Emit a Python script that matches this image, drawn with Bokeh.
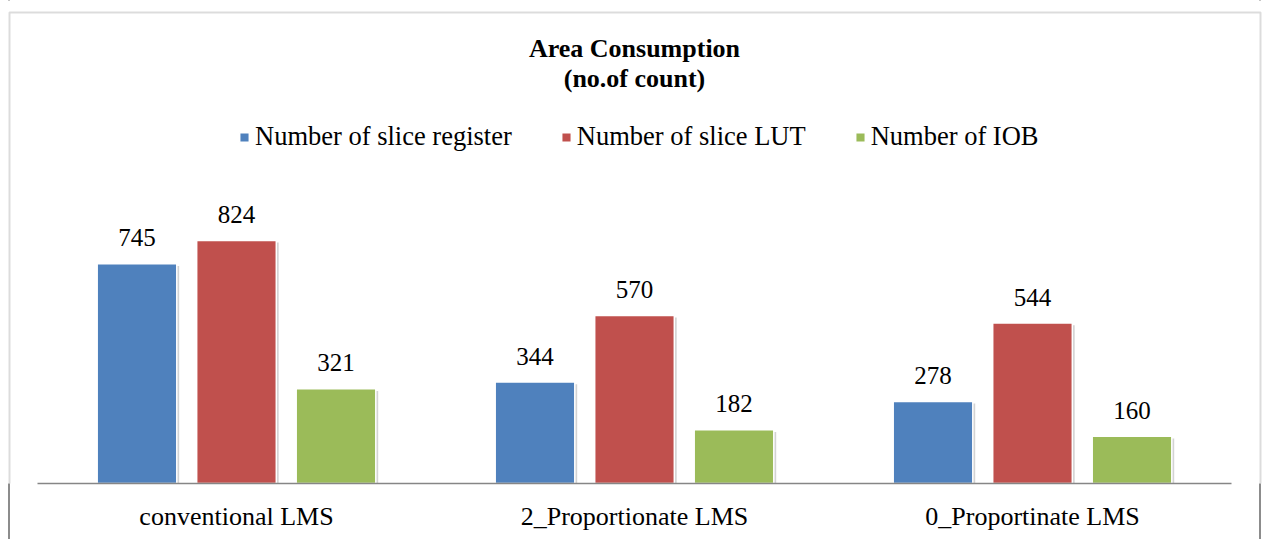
from bokeh.plotting import figure
from bokeh.models import (ColumnDataSource, FactorRange, Range1d, LabelSet, Label,
                          Legend, LegendItem, BoxAnnotation)
from bokeh.transform import dodge
from bokeh.embed import file_html
from bokeh.resources import INLINE

categories = ["conventional LMS", "2_Proportionate LMS", "0_Proportinate LMS"]
series_names = ["Number of slice register", "Number of slice LUT", "Number of IOB"]
slice_register = [745, 344, 278]
slice_lut = [824, 570, 544]
iob = [321, 182, 160]
colors = ["#4F81BD", "#C0504D", "#9BBB59"]

FONT = "'Liberation Serif', 'Times New Roman', serif"
BORDER = "#8c8c8c"

data = dict(cat=categories, reg=slice_register, lut=slice_lut, iob=iob)
for key in ["reg", "lut", "iob"]:
    data[key + "_txt"] = [str(v) for v in data[key]]
    data[key + "_sh"] = [v - 7 for v in data[key]]
source = ColumnDataSource(data)

p = figure(width=1262, height=539, output_backend="svg", toolbar_location=None,
           title_location=None,
           x_range=FactorRange(factors=categories, range_padding=0.0519),
           y_range=Range1d(0, 1638), y_axis_location=None,
           min_border_left=6, min_border_right=0, min_border_top=0,
           min_border_bottom=56)
p.outline_line_color = None
p.xgrid.visible = False
p.ygrid.visible = False
p.background_fill_color = "white"
p.border_fill_color = None
p.styles = {
    "background": ("linear-gradient(to right, transparent 8px, %s 8px, %s 10px, "
                   "transparent 10px, transparent 1259px, %s 1259px, %s 1261px, "
                   "transparent 1261px), white") % (BORDER, BORDER, BORDER, BORDER)
}

offsets = [-0.25, 0.0, 0.25]
keys = ["reg", "lut", "iob"]
items = []
for key, off in zip(keys, offsets):
    p.vbar(x=dodge("cat", off + 0.006, range=p.x_range), top=key + "_sh", width=0.2,
           source=source, fill_color="#808080", fill_alpha=0.35, line_color=None)
for key, off, col, name in zip(keys, offsets, colors, series_names):
    r = p.vbar(x=dodge("cat", off, range=p.x_range), top=key, width=0.2, source=source,
               fill_color=col, line_color="white", line_width=1.5)
    items.append(LegendItem(label=name, renderers=[r]))
    labels = LabelSet(x=dodge("cat", off, range=p.x_range), y=key, text=key + "_txt",
                      source=source, y_offset=26, text_align="center",
                      text_baseline="middle", text_font=FONT, text_font_size="25px",
                      text_color="black")
    p.add_layout(labels)

legend = Legend(items=items, orientation="horizontal", location=(232, 331),
                glyph_width=12, glyph_height=12, label_standoff=5, spacing=48,
                padding=0, margin=0, border_line_color=None, background_fill_alpha=0,
                label_text_font=FONT, label_text_font_size="26.5px",
                label_text_color="black")
p.add_layout(legend, "center")

xa = p.xaxis[0]
xa.bounds = (0, len(categories))
xa.axis_line_color = "#868686"
xa.axis_line_width = 1.5
xa.major_tick_line_color = None
xa.minor_tick_line_color = None
xa.major_label_text_font = FONT
xa.major_label_text_font_size = "26px"
xa.major_label_text_color = "black"
xa.major_label_standoff = 12

for txt, yy in [("Area Consumption", 48), ("(no.of count)", 78)]:
    p.add_layout(Label(x=634, y=yy, x_units="canvas", y_units="canvas", text=txt,
                       text_align="center", text_baseline="middle", text_font=FONT,
                       text_font_size="26px", text_font_style="bold", text_color="black"))

p.add_layout(BoxAnnotation(left=9, right=1260, top=12, bottom=700,
                           left_units="canvas", right_units="canvas",
                           top_units="canvas", bottom_units="canvas",
                           fill_alpha=0, line_color=BORDER, line_width=2))

open("out.html", "w").write(file_html(p, INLINE))
